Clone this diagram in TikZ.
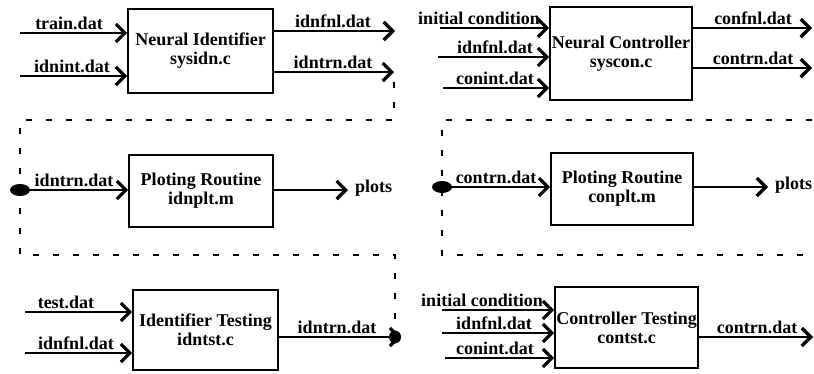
\documentclass[tikz,border=0pt]{standalone}
\usepackage{fontspec}
\setmainfont{Liberation Serif}
\usetikzlibrary{arrows.meta,shapes.geometric}

\begin{document}
\begin{tikzpicture}[x=1pt,y=-1pt,
  every node/.style={font=\bfseries\fontsize{18}{19}\selectfont},
  block/.style={draw, line width=1.6pt, align=center, inner sep=0pt},
  lbl/.style={anchor=base, inner sep=0pt},
  flow/.style={line width=1.3pt, -{Straight Barb[length=9pt,width=18pt,line width=3.2pt]}},
  dashline/.style={line width=1.8pt, dash pattern=on 6pt off 14pt},
  junction/.style={ellipse, fill=black, inner sep=0pt, minimum width=20pt, minimum height=12pt}
]
\useasboundingbox (0,0) rectangle (814,373);

% ---------------- identifier chain (left column) ----------------
\node[block, minimum width=145pt, minimum height=84pt] (A) at (200.5,51) {Neural Identifier\\sysidn.c};
\coordinate (trainIn) at (20,33);
\coordinate (idnintIn) at (20,76);
\coordinate (idnfnlOut) at (395,31);
\coordinate (idntrnOut) at (394,72);
\draw[flow] (trainIn) -- (trainIn -| A.west);
\draw[flow] (idnintIn) -- (idnintIn -| A.west);
\draw[flow] (idnfnlOut -| A.east) -- (idnfnlOut);
\draw[flow] (idntrnOut -| A.east) -- (idntrnOut);
\node[lbl] (trainL) at (69,29.5) {train.dat};
\node[lbl] (idnintL) at (72,72.5) {idnint.dat};
\node[lbl] (idnfnlL) at (333,27.5) {idnfnl.dat};
\node[lbl] (idntrnL) at (333,68.5) {idntrn.dat};

% dashed route of idntrn.dat round the plotting block
\coordinate (rA) at (394,120);
\coordinate (rB) at (20,120);
\coordinate (rC) at (20,255);
\coordinate (rD) at (395,255);
\coordinate (idntstEnd) at (395,337);
\draw[dashline] ([yshift=-10pt]idntrnOut) -- (rA) -- (rB) -- (rC) -- (rD) -- (idntstEnd);

\node[junction] (plotDotL) at (20,190) {};
\node[block, minimum width=144pt, minimum height=72pt] (C) at (201,191) {Ploting Routine\\idnplt.m};
\draw[flow] (plotDotL) -- (plotDotL -| C.west);
\node[lbl] (idntrnL2) at (74,186) {idntrn.dat};
\coordinate (plotsL) at (348,190);
\draw[flow] (plotsL -| C.east) -- (plotsL);
\node[anchor=mid west, inner sep=0pt] (plotsLText) at (355,190) {plots};

\node[block, minimum width=145pt, minimum height=80pt] (E) at (205.5,330) {Identifier Testing\\idntst.c};
\coordinate (testIn) at (25,312);
\coordinate (idnfnlIn3) at (25,353);
\draw[flow] (testIn) -- (testIn -| E.west);
\draw[flow] (idnfnlIn3) -- (idnfnlIn3 -| E.west);
\node[lbl] (testL) at (66,308.5) {test.dat};
\node[lbl] (idnfnlL3) at (76,349.5) {idnfnl.dat};
\node[junction, minimum width=12pt, minimum height=13pt] (idntstDot) at (idntstEnd) {};
\draw[flow] (E.east |- idntstDot) -- (idntstDot.east);
\node[lbl] (idntrnL3) at (337,333.5) {idntrn.dat};

% ---------------- controller chain (right column) ----------------
\node[block, minimum width=142pt, minimum height=93pt] (B) at (621,53.5) {Neural Controller\\syscon.c};
\coordinate (icIn) at (440,28);
\coordinate (idnfnlIn) at (438,57);
\coordinate (conintIn) at (443,88);
\coordinate (confnlOut) at (812,28);
\coordinate (contrnOut) at (812,68);
\draw[flow] (icIn) -- (icIn -| B.west);
\draw[flow] (idnfnlIn) -- (idnfnlIn -| B.west);
\draw[flow] (conintIn) -- (conintIn -| B.west);
\draw[flow] (confnlOut -| B.east) -- (confnlOut);
\draw[flow] (contrnOut -| B.east) -- (contrnOut);
\node[lbl] (icL) at (479,24.5) {initial condition};
\node[lbl] (idnfnlLR) at (495,53.5) {idnfnl.dat};
\node[lbl] (conintL) at (495,84.5) {conint.dat};
\node[lbl] (confnlL) at (753,24.5) {confnl.dat};
\node[lbl] (contrnL) at (753,64.5) {contrn.dat};

% open dashed bracket round the controller plotting block
\coordinate (sA) at (812,120);
\coordinate (sB) at (442,120);
\coordinate (sC) at (442,255);
\coordinate (sD) at (810,255);
\draw[dashline] (sA) -- (sB) -- (sC) -- (sD);

\node[junction] (plotDotR) at (442,187) {};
\node[block, minimum width=142pt, minimum height=72pt] (D) at (622,189) {Ploting Routine\\conplt.m};
\draw[flow] (plotDotR) -- (plotDotR -| D.west);
\node[lbl] (contrnL2) at (496,183) {contrn.dat};
\coordinate (plotsR) at (768,187);
\draw[flow] (plotsR -| D.east) -- (plotsR);
\node[anchor=mid west, inner sep=0pt] (plotsRText) at (775,187) {plots};

\node[block, minimum width=143pt, minimum height=81pt] (F) at (626.5,327.5) {Controller Testing\\contst.c};
\coordinate (icIn3) at (442,310);
\coordinate (idnfnlInR3) at (442,333);
\coordinate (conintIn3) at (445,358);
\coordinate (contrnOut3) at (813,337);
\draw[flow] (icIn3) -- (icIn3 -| F.west);
\draw[flow] (idnfnlInR3) -- (idnfnlInR3 -| F.west);
\draw[flow] (conintIn3) -- (conintIn3 -| F.west);
\draw[flow] (contrnOut3 -| F.east) -- (contrnOut3);
\node[lbl] (icL3) at (482,306.5) {initial condition};
\node[lbl] (idnfnlLR3) at (494,329.5) {idnfnl.dat};
\node[lbl] (conintL3) at (495,354.5) {conint.dat};
\node[lbl] (contrnL3) at (757,333.5) {contrn.dat};
\end{tikzpicture}
\end{document}
